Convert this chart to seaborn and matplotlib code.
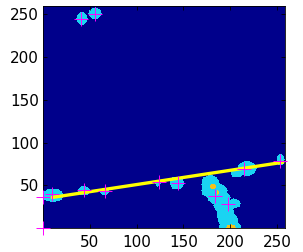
import numpy as np
import seaborn as sns
import matplotlib
matplotlib.use("Agg")
import matplotlib.pyplot as plt
from matplotlib.colors import ListedColormap

# blobs: centre, half widths, level (1 = cyan, 2 = orange)
blob_x = [42, 56, 11, 44, 66, 123, 143,
          179, 183, 188, 193, 195, 198, 200, 204,
          207, 218, 254,
          181.5, 187, 201]
blob_y = [245, 251, 38.5, 44, 43.5, 52, 53,
          51, 44, 36, 27, 18, 10, 2, 29,
          65, 70, 80,
          49, 42, 1]
blob_rx = [6, 7, 11, 6.5, 4.5, 3, 7.5,
           10, 14, 12, 11, 10, 10.5, 11.5, 7,
           6.5, 10, 4,
           3, 1.5, 5]
blob_ry = [7.5, 7, 8, 5.5, 4, 3, 7.5,
           11.5, 9, 9, 9, 9, 9, 7, 6,
           5.5, 8.5, 6.5,
           3, 2.5, 4]
blob_level = [1, 1, 1, 1, 1, 1, 1,
              1, 1, 1, 1, 1, 1, 1, 1,
              1, 1, 1,
              2, 2, 2]

# detected points (magenta crosses)
pt_x = [0, 0, 10, 44, 66, 124, 144, 184, 198, 215, 253, 41, 56]
pt_y = [0, 37, 40, 45, 44, 54, 52.5, 38, 28.5, 69, 79, 244, 250]

# fitted line
fit_x = [10, 256]
fit_y = [36, 77]

xticks = [50, 100, 150, 200, 250]
yticks = [50, 100, 150, 200, 250]

nx, ny = 258, 259
X, Y = np.meshgrid(np.arange(1, nx + 1), np.arange(1, ny + 1))
img = np.zeros((ny, nx))
for cx, cy, rx, ry, lv in zip(blob_x, blob_y, blob_rx, blob_ry, blob_level):
    m = ((X - cx) / rx) ** 2 + ((Y - cy) / ry) ** 2 <= 1
    img[m] = np.maximum(img[m], lv)

sns.set_style("ticks")
plt.rcParams["font.family"] = ["DejaVu Sans"]

fig = plt.figure(figsize=(3.03, 2.52), dpi=100)
ax = fig.add_axes([0.143, 0.096, 0.798, 0.880])

cmap = ListedColormap(["#00008b", "#1ad4f2", "#f5c21c"])
ax.imshow(img, origin="lower", extent=(0.5, nx + 0.5, 0.5, ny + 0.5),
          cmap=cmap, vmin=-0.5, vmax=2.5, interpolation="nearest", aspect="auto")

sns.lineplot(x=fit_x, y=fit_y, color="#ffff00", linewidth=2.4, ax=ax)
sns.scatterplot(x=pt_x, y=pt_y, marker="+", s=110, color="#ff00ff",
                linewidth=0.7, clip_on=False, zorder=5, ax=ax)

ax.set_xlim(0.5, nx + 0.5)
ax.set_ylim(0.5, ny + 0.5)
ax.set_xticks(xticks)
ax.set_yticks(yticks)
ax.tick_params(direction="in", length=3, width=0.6, top=True, right=True,
               labelsize=11, colors="black")
ax.tick_params(axis="x", pad=5)
ax.tick_params(axis="y", pad=3)
for s in ax.spines.values():
    s.set_linewidth(0.6)
    s.set_color("black")

fig.savefig("out.png", dpi=100)
